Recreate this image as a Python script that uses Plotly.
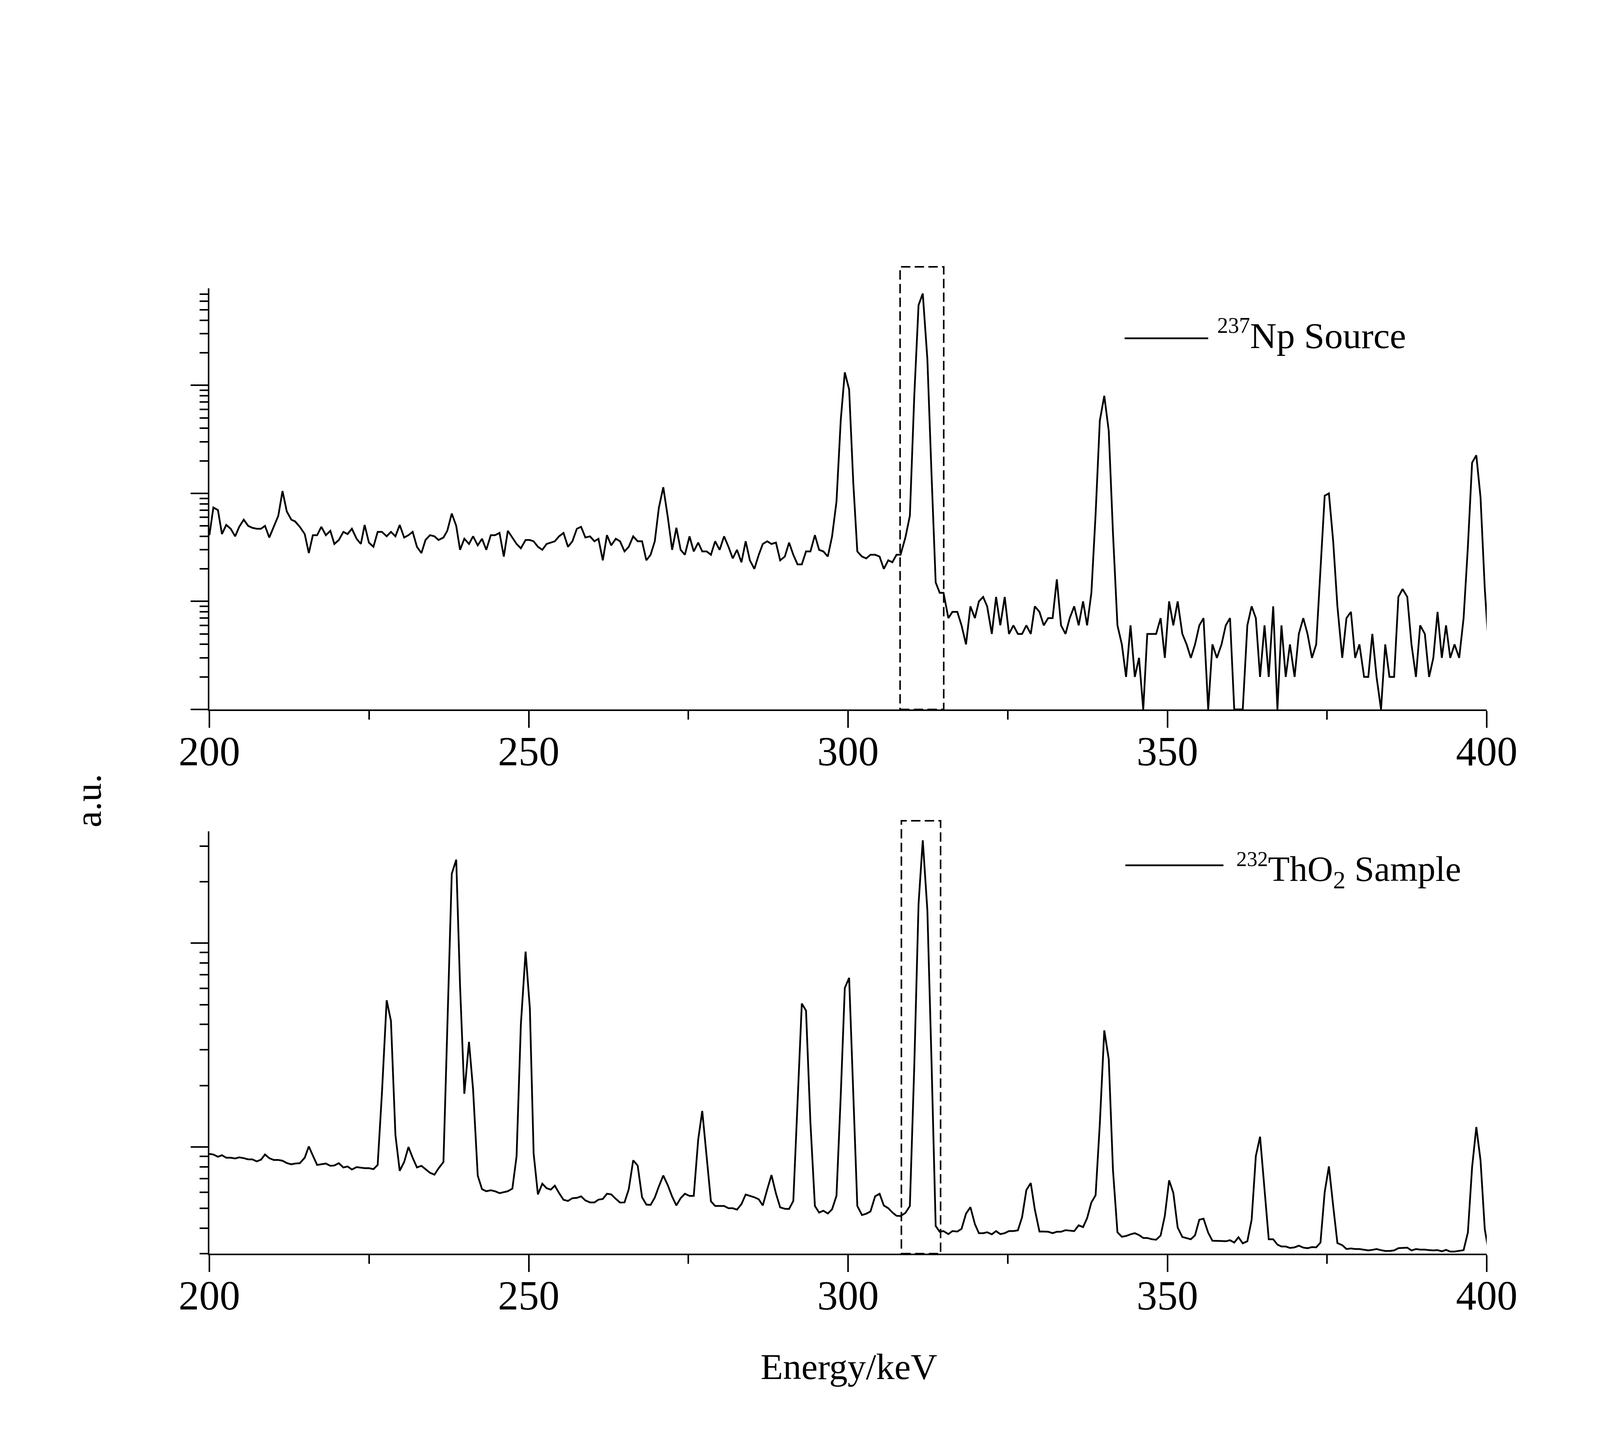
import plotly.graph_objects as go
import math

# ---------------- data ----------------
ENERGY_KEV = [
    200.00, 200.63, 201.34, 201.97, 202.64, 203.34, 204.04, 204.67, 205.38, 206.08,
    206.71, 207.41, 208.08, 208.71, 209.38, 210.08, 210.79, 211.45, 212.12, 212.83,
    213.42, 214.16, 214.93, 215.57, 216.20, 216.87, 217.53, 218.24, 218.94, 219.57,
    220.27, 220.98, 221.64, 222.31, 223.05, 223.72, 224.31, 224.98, 225.69, 226.35,
    227.02, 227.76, 228.43, 229.13, 229.80, 230.50, 231.17, 231.83, 232.50, 233.20,
    233.84, 234.54, 235.24, 235.87, 236.65, 237.25, 237.95, 238.65, 239.25, 239.92,
    240.65, 241.29, 242.02, 242.69, 243.36, 244.06, 244.73, 245.43, 246.10, 246.73,
    247.44, 248.10, 248.77, 249.51, 250.18,
    250.77, 251.44, 252.13, 252.80, 253.45, 254.09, 254.75, 255.45, 256.15, 256.84,
    257.54, 258.20, 258.87, 259.60, 260.29, 260.92, 261.60, 262.25, 262.92, 263.64,
    264.30, 265.00, 265.66, 266.36, 267.06, 267.75, 268.42, 269.08, 269.74, 270.37,
    271.07, 271.80, 272.46, 273.12, 273.79, 274.45, 275.18, 275.84, 276.54, 277.17,
    277.86, 278.53, 279.19, 279.89, 280.59, 281.28, 281.95, 282.61, 283.31, 283.97,
    284.63, 285.33, 286.02, 286.65, 287.35, 288.01, 288.71, 289.37, 290.10, 290.77,
    291.43, 292.09, 292.76, 293.42, 294.11, 294.81, 295.47, 296.14, 296.83, 297.50,
    298.19, 298.86, 299.49, 300.17,
    300.82, 301.45, 302.18, 302.85, 303.51, 304.24, 304.94, 305.60, 306.30, 306.93,
    307.59, 308.22, 308.98, 309.68, 310.37, 311.04, 311.70, 312.42, 313.06, 313.72,
    314.35, 314.95, 315.71, 316.34, 317.11, 317.77, 318.47, 319.16, 319.86, 320.49,
    321.15, 321.78, 322.51, 323.18, 323.84, 324.53, 325.20, 325.89, 326.59, 327.25,
    327.92, 328.61, 329.24, 329.97, 330.64, 331.33, 332.03, 332.69, 333.35, 334.05,
    334.71, 335.41, 336.11, 336.80, 337.43, 338.10, 338.76, 339.42, 340.12, 340.82,
    341.48, 342.18, 342.87, 343.53, 344.23, 344.90, 345.56, 346.22, 346.85, 347.55,
    348.24, 348.94, 349.60, 350.27, 350.93,
    351.61, 352.34, 353.01, 353.67, 354.33, 355.00, 355.66, 356.39, 357.05, 357.75,
    358.48, 359.14, 359.81, 360.47, 361.13, 361.80, 362.52, 363.19, 363.85, 364.51,
    365.21, 365.87, 366.57, 367.23, 367.86, 368.53, 369.19, 369.92, 370.58, 371.28,
    371.94, 372.64, 373.30, 373.97, 374.63, 375.29, 375.96, 376.62, 377.38, 378.04,
    378.74, 379.40, 380.07, 380.80, 381.46, 382.09, 382.75, 383.45, 384.11, 384.77,
    385.50, 386.17, 386.83, 387.56, 388.22, 388.92, 389.58, 390.31, 390.98, 391.64,
    392.30, 392.97, 393.63, 394.29, 394.96, 395.69, 396.38, 397.05, 397.71, 398.37,
    399.03, 399.70, 400.16,
]

NP237_SOURCE = [
    41, 74, 70, 42, 51, 47, 40, 49, 57, 50,
    48, 47, 47, 50, 39, 49, 62, 105, 68, 57,
    55, 49, 42, 28, 41, 41, 49, 41, 45, 34,
    37, 44, 42, 47, 38, 34, 51, 35, 32, 44,
    44, 40, 44, 40, 51, 39, 41, 44, 32, 28,
    37, 41, 40, 37, 39, 45, 65, 50, 30, 38,
    34, 40, 33, 38, 30, 41, 41, 43, 26, 45,
    39, 34, 31, 37, 37,
    36, 32, 30, 34, 35, 36, 40, 43, 32, 36,
    47, 49, 39, 40, 36, 38, 24, 41, 33, 38,
    36, 29, 32, 40, 36, 36, 24, 27, 36, 73,
    114, 59, 30, 48, 30, 27, 40, 29, 35, 29,
    29, 27, 36, 30, 40, 32, 25, 30, 23, 36,
    24, 20, 27, 34, 36, 34, 35, 24, 26, 35,
    27, 22, 22, 29, 29, 41, 30, 29, 26, 40,
    84, 478, 1318, 915,
    125, 29, 26, 25, 27, 27, 26, 20, 24, 23,
    27, 27, 39, 62, 800, 5520, 7070, 1750, 156, 15,
    12, 12, 7, 8, 8, 6, 4, 9, 7, 10,
    11, 9, 5, 11, 6, 11, 5, 6, 5, 5,
    6, 5, 9, 8, 6, 7, 7, 16, 6, 5,
    7, 9, 6, 10, 6, 12, 64, 470, 800, 378,
    43, 6, 4, 2, 6, 2, 3, 1, 5, 5,
    5, 7, 3, 10, 6,
    10, 5, 4, 3, 4, 6, 7, 1, 4, 3,
    4, 6, 7, 1, 1, 1, 6, 9, 7, 2,
    6, 2, 9, 1, 6, 2, 4, 2, 5, 7,
    5, 3, 4, 19, 95, 100, 36, 9, 3, 7,
    8, 3, 4, 2, 2, 5, 2, 1, 4, 2,
    2, 11, 13, 11, 4, 2, 6, 5, 2, 3,
    8, 3, 6, 3, 4, 3, 7, 32, 192, 225,
    92, 13, 5,
]

TH232_SAMPLE = [
    926, 919, 896, 912, 886, 886, 879, 890, 882, 870,
    870, 851, 867, 919, 882, 864, 864, 857, 835, 823,
    830, 833, 886, 1007, 909, 817, 823, 830, 809, 812,
    833, 794, 803, 776, 797, 791, 788, 788, 779, 817,
    1845, 5250, 4160, 1146, 765, 845, 1000, 886, 794, 809,
    779, 748, 732, 785, 845, 3980, 21900, 25700, 6180, 1825,
    3280, 1915, 724, 621, 607, 614, 607, 594, 601, 607,
    625, 902, 3980, 9100, 4790,
    930, 586, 661, 628, 618, 646, 595, 551, 544, 561,
    563, 573, 547, 535, 535, 552, 556, 590, 586, 557,
    534, 535, 620, 861, 811, 567, 522, 520, 565, 640,
    725, 647, 571, 517, 561, 590, 576, 576, 1089, 1504,
    875, 542, 514, 515, 514, 501, 501, 493, 525, 585,
    577, 567, 554, 517, 620, 729, 592, 506, 498, 497,
    544, 1637, 5060, 4670, 1315, 514, 477, 487, 472, 495,
    577, 1800, 6030, 6760,
    1900, 514, 464, 471, 483, 573, 590, 517, 501, 478,
    460, 459, 475, 514, 2500, 15600, 32000, 14500, 2700, 410,
    384, 387, 374, 387, 385, 397, 471, 507, 419, 378,
    378, 382, 373, 387, 374, 378, 387, 387, 390, 453,
    615, 666, 495, 385, 385, 384, 378, 384, 384, 391,
    389, 387, 413, 405, 448, 535, 580, 1300, 3735, 2700,
    771, 382, 363, 366, 373, 378, 370, 358, 358, 353,
    351, 368, 460, 686, 596,
    403, 362, 357, 353, 369, 440, 445, 380, 347, 347,
    346, 345, 349, 340, 361, 337, 345, 440, 903, 1124,
    620, 353, 353, 332, 325, 325, 320, 322, 328, 321,
    319, 323, 322, 340, 601, 804, 514, 338, 330, 316,
    318, 316, 316, 313, 311, 313, 316, 312, 309, 309,
    311, 319, 320, 321, 311, 316, 314, 314, 312, 311,
    312, 308, 313, 307, 307, 309, 312, 381, 796, 1254,
    861, 394, 326,
]

X_TICK_VALUES = [200, 250, 300, 350, 400]
X_TICK_LABELS = ["200", "250", "300", "350", "400"]
X_RANGE = [200, 400]
NP_Y_RANGE_COUNTS = [1, 7900]
TH_Y_RANGE_COUNTS = [300, 35400]
ROI_NP = [308.15, 314.98]
ROI_TH = [308.35, 314.49]

# ---------------- layout helpers (pixel geometry) ----------------
W, H = 4288, 3704
ML, MR, MT, MB = 528, 490, 100, 100
PW, PH = W - ML - MR, H - MT - MB


def py(pix):
    return (H - MB - pix) / PH


def px(pix):
    return (pix - ML) / PW


FONT = "Liberation Serif, Times New Roman, serif"
LW_DATA = 4.5
LW_AX = 4

fig = go.Figure()
fig.add_trace(go.Scatter(x=ENERGY_KEV, y=NP237_SOURCE, mode="lines",
                         line=dict(color="black", width=LW_DATA),
                         xaxis="x", yaxis="y", showlegend=False,
                         name="237Np Source"))
fig.add_trace(go.Scatter(x=ENERGY_KEV, y=TH232_SAMPLE, mode="lines",
                         line=dict(color="black", width=LW_DATA),
                         xaxis="x2", yaxis="y2", showlegend=False,
                         name="232ThO2 Sample"))


def xaxis(anchor):
    return dict(anchor=anchor, domain=[0, 1], range=X_RANGE,
                tickmode="array", tickvals=X_TICK_VALUES, ticktext=X_TICK_LABELS,
                ticks="outside", ticklen=43, tickwidth=LW_AX, tickcolor="black",
                ticklabelstandoff=-30,
                minor=dict(dtick=25, tick0=200, ticks="outside", ticklen=22,
                           tickwidth=LW_AX, tickcolor="black", showgrid=False),
                showline=True, linewidth=LW_AX, linecolor="black",
                showgrid=False, zeroline=False, automargin=False,
                tickfont=dict(family=FONT, size=105, color="black"))


def yaxis(anchor, dom, rng):
    return dict(anchor=anchor, domain=dom, type="log",
                range=[math.log10(rng[0]), math.log10(rng[1])],
                dtick=1, ticks="outside", ticklen=44, tickwidth=LW_AX, tickcolor="black",
                minor=dict(dtick="D1", ticks="outside", ticklen=21, tickwidth=LW_AX,
                           tickcolor="black", showgrid=False),
                showticklabels=False, showline=True, linewidth=LW_AX, linecolor="black",
                showgrid=False, zeroline=False, automargin=False)


fig.update_layout(
    width=W, height=H,
    margin=dict(l=ML, r=MR, t=MT, b=MB, autoexpand=False),
    paper_bgcolor="white", plot_bgcolor="white",
    font=dict(family=FONT, color="black"),
    xaxis=xaxis("y"),
    yaxis=yaxis("x", [py(1808), py(730)], NP_Y_RANGE_COUNTS),
    xaxis2=xaxis("y2"),
    yaxis2=yaxis("x2", [py(3201), py(2120)], TH_Y_RANGE_COUNTS),
)

dash = "24px,11px"
shapes = [
    dict(type="rect", xref="x", yref="y domain", x0=ROI_NP[0], x1=ROI_NP[1],
         y0=0, y1=1.051, line=dict(color="black", width=LW_AX, dash=dash)),
    dict(type="rect", xref="x2", yref="y2 domain", x0=ROI_TH[0], x1=ROI_TH[1],
         y0=0, y1=1.025, line=dict(color="black", width=LW_AX, dash=dash)),
    # legend sample lines
    dict(type="line", xref="paper", yref="paper", x0=px(2871), x1=px(3085),
         y0=py(858), y1=py(858), line=dict(color="black", width=LW_DATA)),
    dict(type="line", xref="paper", yref="paper", x0=px(2873), x1=px(3124),
         y0=py(2207), y1=py(2207), line=dict(color="black", width=LW_DATA)),
]

annotations = [
    dict(text="<sup><span style='font-size:56px'>237</span></sup>Np Source",
         xref="paper", yref="paper",
         x=px(3106), y=py(848), xanchor="left", yanchor="middle",
         showarrow=False, font=dict(family=FONT, size=94, color="black")),
    dict(text="<sup><span style='font-size:54px'>232</span></sup>ThO<sub>2</sub> Sample",
         xref="paper", yref="paper",
         x=px(3155), y=py(2220), xanchor="left", yanchor="middle",
         showarrow=False, font=dict(family=FONT, size=91, color="black")),
    dict(text="a.u.", xref="paper", yref="paper", x=px(218), y=py(2042),
         xanchor="center", yanchor="middle", textangle=-90,
         showarrow=False, font=dict(family=FONT, size=95, color="black")),
    dict(text="Energy/keV", xref="paper", yref="paper", x=px(2165), y=py(3490),
         xanchor="center", yanchor="middle",
         showarrow=False, font=dict(family=FONT, size=94, color="black")),
]

fig.update_layout(shapes=shapes, annotations=annotations)
fig.write_html("out.html")
